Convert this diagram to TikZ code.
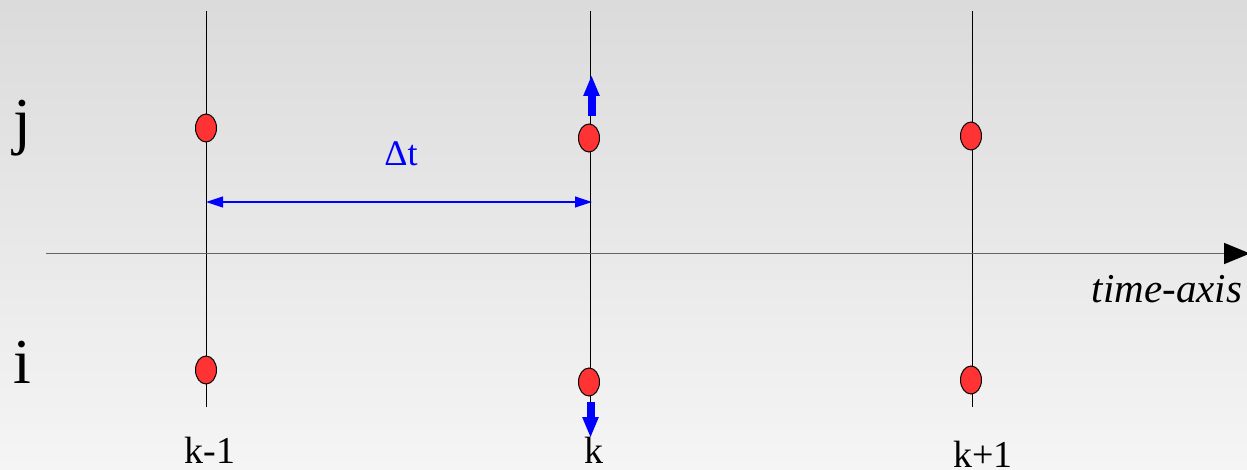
\documentclass[tikz,border=0pt]{standalone}
\usepackage{fontspec}
\setmainfont{Liberation Serif}
\usetikzlibrary{shapes.geometric,arrows.meta}
\definecolor{dotred}{RGB}{255,51,51}
\definecolor{bgtop}{RGB}{219,219,219}
\definecolor{bgbot}{RGB}{245,245,245}
\definecolor{axisgray}{RGB}{100,100,100}
\tikzset{
  gridline/.style={black,line width=0.5pt},
  dot/.style={ellipse,draw=black,line width=0.5pt,fill=dotred,minimum width=10.5pt,minimum height=14pt,inner sep=0pt},
  bigarrow/.style={blue,line width=4pt,-{Triangle[length=10.5pt,width=7.5pt]}},
  dimarrow/.style={blue,line width=0.6pt,{Triangle[length=8.5pt,width=5.5pt]}-{Triangle[length=8.5pt,width=5.5pt]}},
  axisline/.style={axisgray,line width=0.8pt,-{Triangle[length=13pt,width=10.5pt,color=black]}},
  idx/.style={font=\fontsize{32pt}{33pt}\selectfont,anchor=base,inner sep=0pt},
  klab/.style={font=\fontsize{19pt}{20pt}\selectfont,anchor=base,inner sep=0pt},
}
\begin{document}
\begin{tikzpicture}[x=0.5pt,y=-0.5pt]
\useasboundingbox (0,0) rectangle (1247,470);
\shade[top color=bgtop,bottom color=bgbot] (0,0) rectangle (1247,470);
% vertical lines
\coordinate (t1) at (206,11); \coordinate (b1) at (206,407);
\coordinate (t2) at (590,11); \coordinate (b2) at (590,407);
\coordinate (t3) at (972,11); \coordinate (b3) at (972,407);
\draw[gridline] (t1) -- (b1);
\draw[gridline] (t2) -- (b2);
\draw[gridline] (t3) -- (b3);
% axis
\coordinate (ax0) at (46,253.5);
\coordinate (ax1) at (1250,253.5);
\draw[axisline] (ax0) -- (ax1);
\node[font=\fontsize{20.5pt}{21pt}\selectfont\itshape,anchor=base,inner sep=0pt] (tax) at (1167,302) {time-axis};
% dots
\node[dot] (j1) at (206,128) {};
\node[dot] (j2) at (589,138) {};
\node[dot] (j3) at (971,136) {};
\node[dot] (i1) at (206,370) {};
\node[dot] (i2) at (589,382) {};
\node[dot] (i3) at (971,380) {};
% blue arrows
\coordinate (ua0) at (591.5,116); \coordinate (ua1) at (591.5,75);
\coordinate (da0) at (590.5,402); \coordinate (da1) at (590.5,438);
\draw[bigarrow] (ua0) -- (ua1);
\draw[bigarrow] (da0) -- (da1);
% delta t
\coordinate (dl) at (206,202); \coordinate (dr) at (592,202);
\draw[dimarrow] (dl) -- (dr);
\node[blue,font=\fontsize{18pt}{19pt}\selectfont,anchor=base,inner sep=0pt] (dt) at (401,166) {Δt};
% labels
\node[idx] (lj) at (22,143) {j};
\node[idx] (li) at (22,383) {i};
\node[klab] (k1) at (210,463) {k-1};
\node[klab] (k2) at (594,463) {k};
\node[klab] (k3) at (983,467) {k+1};
\end{tikzpicture}
\end{document}
